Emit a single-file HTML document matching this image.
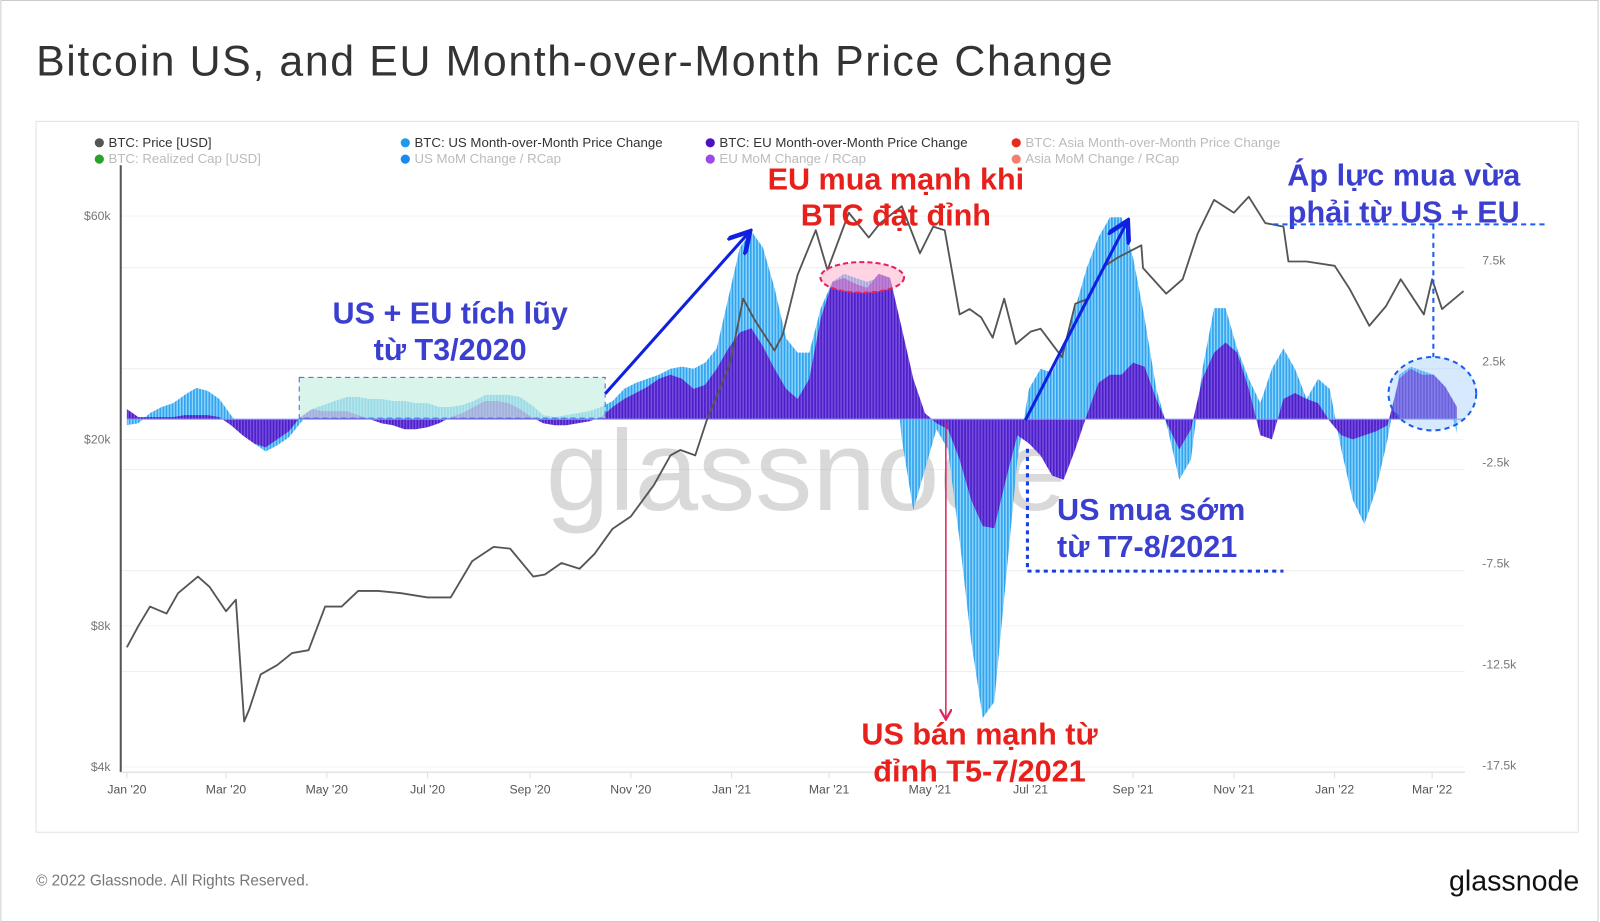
<!DOCTYPE html>
<html><head><meta charset="utf-8"><style>
html,body{margin:0;padding:0;background:#fff;}
svg{display:block;font-family:"Liberation Sans","DejaVu Sans",sans-serif;}
</style></head><body>
<svg id="chart" width="1600" height="922" viewBox="0 0 1568 904" xmlns="http://www.w3.org/2000/svg">
<defs>
<pattern id="usPat" width="3" height="10" patternUnits="userSpaceOnUse"><rect width="3" height="10" fill="#8fd4fa"/><rect width="1.6" height="10" fill="#2fa3ef"/></pattern>
<pattern id="euPat" width="3" height="10" patternUnits="userSpaceOnUse"><rect width="3" height="10" fill="#7a4fe0"/><rect width="1.6" height="10" fill="#4a1fc8"/></pattern>
<marker id="ahBlue" markerWidth="8" markerHeight="8" refX="6" refY="4" orient="auto"><path d="M0,0 L7,4 L0,8" fill="none" stroke="#1020e0" stroke-width="1.5"/></marker>
<marker id="ahRed" markerWidth="8" markerHeight="8" refX="6" refY="4" orient="auto"><path d="M0,0 L7,4 L0,8" fill="none" stroke="#e0245e" stroke-width="1.5"/></marker>
</defs>
<rect x="0.5" y="0.5" width="1566" height="903" fill="#fff" stroke="#ccc"/>
<text x="35" y="74" font-size="42" letter-spacing="1.6" fill="#333">Bitcoin US, and EU Month-over-Month Price Change</text>
<rect x="35" y="119" width="1512" height="697" fill="#fff" stroke="#e2e2e2"/>
<g id="legend" font-size="13">
<g><circle cx="97" cy="140" r="4.5" fill="#555"/><text x="106" y="144" fill="#333">BTC: Price [USD]</text></g>
<g><circle cx="97" cy="156" r="4.5" fill="#2ca02c"/><text x="106" y="160" fill="#bbb">BTC: Realized Cap [USD]</text></g>
<g><circle cx="397" cy="140" r="4.5" fill="#1a9af0"/><text x="406" y="144" fill="#333">BTC: US Month-over-Month Price Change</text></g>
<g><circle cx="397" cy="156" r="4.5" fill="#1a8af0"/><text x="406" y="160" fill="#bbb">US MoM Change / RCap</text></g>
<g><circle cx="696" cy="140" r="4.5" fill="#4a12c0"/><text x="705" y="144" fill="#333">BTC: EU Month-over-Month Price Change</text></g>
<g><circle cx="696" cy="156" r="4.5" fill="#9a4ae8"/><text x="705" y="160" fill="#bbb">EU MoM Change / RCap</text></g>
<g><circle cx="996" cy="140" r="4.5" fill="#e82a1a"/><text x="1005" y="144" fill="#bbb">BTC: Asia Month-over-Month Price Change</text></g>
<g><circle cx="996" cy="156" r="4.5" fill="#f08070"/><text x="1005" y="160" fill="#bbb">Asia MoM Change / RCap</text></g>
</g>
<g id="grid"></g>
<text x="790" y="500" font-size="112" fill="#aaa" fill-opacity="0.45" text-anchor="middle">glassnode</text>
<g id="bars"></g>
<g id="priceG"></g>
<g id="axes"></g>
<g id="annotations">
<rect x="293" y="370" width="300" height="40" fill="#c8f0e2" fill-opacity="0.7" stroke="#5060f0" stroke-dasharray="5,4"/>
<text x="441" y="317" font-size="30" font-weight="bold" fill="#3b3fd0" text-anchor="middle">US + EU tích lũy</text>
<text x="441" y="353" font-size="30" font-weight="bold" fill="#3b3fd0" text-anchor="middle">từ T3/2020</text>
<line x1="593" y1="386" x2="733" y2="229" stroke="#1020e0" stroke-width="3" marker-end="url(#ahBlue)"/>
<text x="878" y="186" font-size="30" font-weight="bold" fill="#e8201c" text-anchor="middle">EU mua mạnh khi</text>
<text x="878" y="221" font-size="30" font-weight="bold" fill="#e8201c" text-anchor="middle">BTC đạt đỉnh</text>
<ellipse cx="845" cy="272" rx="41" ry="15" fill="#ffb0cc" fill-opacity="0.55" stroke="#e8205a" stroke-width="2" stroke-dasharray="5,3"/>
<line x1="927" y1="414" x2="927" y2="704" stroke="#e0245e" stroke-width="1.5" marker-end="url(#ahRed)"/>
<text x="960" y="730" font-size="30" font-weight="bold" fill="#e8201c" text-anchor="middle">US bán mạnh từ</text>
<text x="960" y="766" font-size="30" font-weight="bold" fill="#e8201c" text-anchor="middle">đỉnh T5-7/2021</text>
<line x1="1005" y1="412" x2="1104" y2="219" stroke="#1020e0" stroke-width="3" marker-end="url(#ahBlue)"/>
<polyline points="1007,440 1007,560 1258,560" fill="none" stroke="#1a3ee0" stroke-width="3" stroke-dasharray="4,4"/>
<text x="1036" y="510" font-size="30" font-weight="bold" fill="#3b3fd0">US mua sớm</text>
<text x="1036" y="546" font-size="30" font-weight="bold" fill="#3b3fd0">từ T7-8/2021</text>
<text x="1376" y="182" font-size="30" font-weight="bold" fill="#3b3fd0" text-anchor="middle">Áp lực mua vừa</text>
<text x="1376" y="218" font-size="30" font-weight="bold" fill="#3b3fd0" text-anchor="middle">phải từ US + EU</text>
<line x1="1248" y1="220" x2="1518" y2="220" stroke="#1a5ef0" stroke-width="2" stroke-dasharray="5,4"/>
<line x1="1405" y1="220" x2="1405" y2="350" stroke="#1a5ef0" stroke-width="2" stroke-dasharray="5,4"/>
<ellipse cx="1404" cy="386" rx="43" ry="36" fill="#9cc8f8" fill-opacity="0.4" stroke="#1a5ef0" stroke-width="2" stroke-dasharray="5,4"/>
</g>
<text x="35" y="868" font-size="15" fill="#777">© 2022 Glassnode. All Rights Reserved.</text>
<text x="1548" y="873" font-size="28" fill="#111" text-anchor="end">glassnode</text>
</svg>
<script>
// Data
const usMoM = [-0.3,-0.2,0.3,0.6,0.8,1.2,1.55,1.4,1.0,0.2,-0.5,-1.2,-1.6,-1.3,-0.9,-0.2,0.5,0.7,0.9,1.1,1.1,1.0,1.0,0.9,0.9,0.8,0.8,0.6,0.6,0.7,0.9,1.2,1.2,1.2,1.1,0.7,0.2,0.1,0.2,0.3,0.4,0.6,0.9,1.5,1.8,2.0,2.2,2.5,2.6,2.5,2.8,3.5,6.0,8.5,9.3,8.5,6.5,4.0,3.3,3.3,5.5,6.8,7.2,7.0,6.8,7.0,5.0,-1.0,-4.5,-2.5,-0.5,-1.5,-6,-11,-14.8,-14,-8,-2,1.5,2.5,2.3,3.5,5.5,7.5,9.0,10.0,10.0,8.0,5.0,1.5,-0.5,-3.0,-2.0,2.5,5.5,5.5,3.5,2.0,0.8,2.5,3.5,2.5,1.0,2.0,1.5,-1.5,-4.0,-5.2,-3.5,-1.0,2.2,2.6,2.4,2.2,1.5,-0.7];
const euMoM = [0.5,0.1,0.1,0.1,0.1,0.2,0.2,0.2,0.1,-0.3,-0.8,-1.2,-1.4,-1.0,-0.6,0.1,0.5,0.4,0.4,0.4,0.2,0.0,-0.2,-0.3,-0.5,-0.5,-0.4,-0.2,0.1,0.3,0.6,0.9,0.9,0.8,0.5,0.1,-0.2,-0.3,-0.3,-0.2,-0.1,0.1,0.6,1.0,1.3,1.6,2.0,2.2,2.0,1.5,1.7,2.5,3.5,4.3,4.5,3.6,2.5,1.5,1.0,2.0,5.0,6.8,7.0,6.7,6.5,7.2,7.0,4.5,2.0,0.3,-0.2,-0.5,-2.0,-4.0,-5.3,-5.4,-3.0,-0.8,-1.2,-1.8,-2.8,-3.0,-1.5,0.2,1.8,2.2,2.2,2.8,2.6,1.0,-0.3,-1.5,-0.5,2.0,3.3,3.8,3.3,1.5,-0.8,-1.0,1.0,1.3,1.0,0.8,-0.1,-0.8,-1.0,-0.8,-0.6,-0.3,2.0,2.5,2.2,2.2,1.6,0.6];
const priceDates = ["2020-01-01","2020-01-08","2020-01-15","2020-01-25","2020-02-01","2020-02-13","2020-02-20","2020-03-01","2020-03-07","2020-03-12","2020-03-15","2020-03-22","2020-04-01","2020-04-10","2020-04-20","2020-04-30","2020-05-10","2020-05-20","2020-06-01","2020-06-15","2020-07-01","2020-07-15","2020-07-28","2020-08-10","2020-08-20","2020-09-03","2020-09-10","2020-09-20","2020-10-01","2020-10-10","2020-10-21","2020-11-01","2020-11-15","2020-11-25","2020-12-01","2020-12-10","2020-12-17","2020-12-31","2021-01-08","2021-01-15","2021-01-27","2021-02-01","2021-02-10","2021-02-21","2021-02-28","2021-03-13","2021-03-25","2021-04-01","2021-04-14","2021-04-25","2021-05-03","2021-05-10","2021-05-19","2021-05-25","2021-06-01","2021-06-08","2021-06-15","2021-06-22","2021-07-01","2021-07-07","2021-07-20","2021-07-28","2021-08-05","2021-08-15","2021-08-23","2021-09-06","2021-09-07","2021-09-21","2021-10-01","2021-10-10","2021-10-20","2021-11-01","2021-11-10","2021-11-20","2021-12-01","2021-12-04","2021-12-15","2022-01-01","2022-01-10","2022-01-22","2022-02-01","2022-02-10","2022-02-24","2022-03-01","2022-03-07","2022-03-20"];
const priceValues = [7200,8000,8800,8500,9400,10200,9700,8600,9100,5000,5300,6300,6600,7000,7100,8800,8800,9500,9500,9400,9200,9200,11000,11800,11700,10200,10300,10900,10600,11400,12900,13700,16000,18500,19000,18500,22000,29000,40000,36000,31000,33500,45000,56000,46000,61000,54000,58000,63000,50000,57000,56000,37000,38000,36500,33000,40000,32000,34000,34500,30000,39000,40000,47000,49000,52000,46500,41000,44000,55000,65000,61000,66000,58000,57000,48000,48000,47000,42000,35000,38500,44000,37000,44000,38000,41500];
const xTickLabels = ["Jan '20","Mar '20","May '20","Jul '20","Sep '20","Nov '20","Jan '21","Mar '21","May '21","Jul '21","Sep '21","Nov '21","Jan '22","Mar '22"];
const xTickDates = ["2020-01-01","2020-03-01","2020-05-01","2020-07-01","2020-09-01","2020-11-01","2021-01-01","2021-03-01","2021-05-01","2021-07-01","2021-09-01","2021-11-01","2022-01-01","2022-03-01"];
const leftTicks = [60000,20000,8000,4000];
const leftTickLabels = ["$60k","$20k","$8k","$4k"];
const rightTicks = [7500,2500,-2500,-7500,-12500,-17500];
const rightTickLabels = ["7.5k","2.5k","-2.5k","-7.5k","-12.5k","-17.5k"];

const NS="http://www.w3.org/2000/svg";
const T0=Date.UTC(2020,0,1);
function dayOf(s){const p=s.split("-");return (Date.UTC(+p[0],+p[1]-1,+p[2])-T0)/86400000;}
function xDay(d){return 124+d*1.62;}
function yR(v){return 411-v*19.8;} // v in thousands
function yRv(v){return 411-(v/1000)*19.8;}
function yP(p){return 431-199.4*Math.log(p/20000);}
function mk(tag,attrs,parent){const e=document.createElementNS(NS,tag);for(const k in attrs)e.setAttribute(k,attrs[k]);parent.appendChild(e);return e;}

const grid=document.getElementById('grid');
rightTicks.forEach((v,i)=>{
  const g=mk('line',{x1:118,x2:1436,y1:yRv(v),y2:yRv(v),stroke:'#eeeeee','stroke-width':1},grid);
  
  
});
leftTicks.forEach((v,i)=>{
  const g=mk('line',{x1:118,x2:1436,y1:yP(v),y2:yP(v),stroke:'#f3f3f3','stroke-width':1},grid);
  
  
});

const bars=document.getElementById('bars');
function drawSeries(arr,fill,name){
  const y0=yR(0);
  let d='M'+xDay(0).toFixed(1)+','+y0;
  arr.forEach((v,i)=>{ d+=' L'+xDay(i*7).toFixed(1)+','+yR(v).toFixed(1); });
  d+=' L'+xDay((arr.length-1)*7).toFixed(1)+','+y0+' Z';
  const p=mk('path',{d:d,fill:fill},bars);
  
  
}
drawSeries(usMoM,'url(#usPat)','us-mom-bars');
drawSeries(euMoM,'url(#euPat)','eu-mom-bars');
const zl=mk('line',{x1:124,x2:1436,y1:411,y2:411,stroke:'#8a9af0','stroke-width':1},bars);



const pg=document.getElementById('priceG');
const pts=priceDates.map((d,i)=>xDay(dayOf(d)).toFixed(1)+','+yP(priceValues[i]).toFixed(1)).join(' ');
const pl=mk('polyline',{points:pts,fill:'none',stroke:'#555','stroke-width':1.8,'stroke-linejoin':'round'},pg);



const ax=document.getElementById('axes');
const la=mk('line',{x1:118,x2:118,y1:162,y2:757,stroke:'#555','stroke-width':2},ax);


const xa=mk('line',{x1:118,x2:1436,y1:757,y2:757,stroke:'#ddd','stroke-width':1},ax);


leftTicks.forEach((v,i)=>{
  const t=mk('text',{x:108,y:yP(v)+4,'font-size':12,fill:'#777','text-anchor':'end'},ax);
  t.textContent=leftTickLabels[i];
  
  
});
rightTicks.forEach((v,i)=>{
  const t=mk('text',{x:1453,y:yRv(v)-3,'font-size':12,fill:'#777'},ax);
  t.textContent=rightTickLabels[i];
  
  
});
xTickDates.forEach((d,i)=>{
  const x=xDay(dayOf(d));
  const tk=mk('line',{x1:x,x2:x,y1:757,y2:763,stroke:'#ddd'},ax);
  
  
  const t=mk('text',{x:x,y:778,'font-size':12,fill:'#555','text-anchor':'middle'},ax);
  t.textContent=xTickLabels[i];
  
  
});
</script>
</body></html>
